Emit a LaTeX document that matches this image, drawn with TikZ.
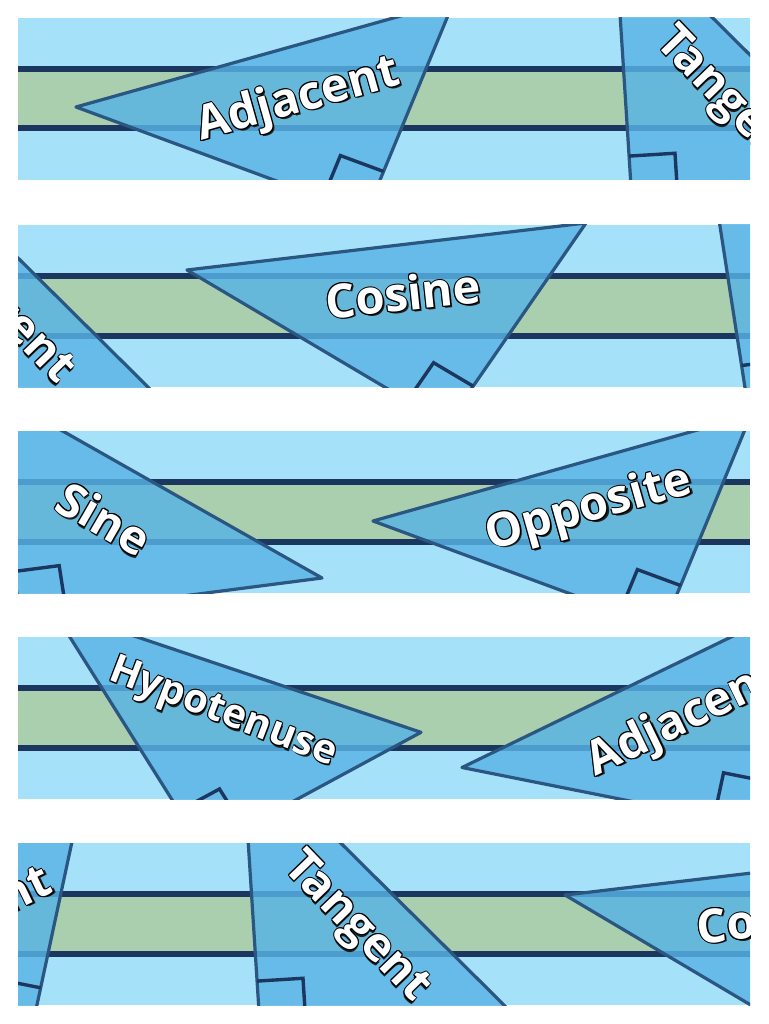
\documentclass[tikz,border=0pt]{standalone}
\usepackage{fontspec}
\setsansfont{Open Sans}
\usetikzlibrary{calc}

\definecolor{sky}{HTML}{A6E1FA}
\definecolor{meadow}{HTML}{AACFAE}
\definecolor{navy}{HTML}{1B3760}
\definecolor{trifill}{HTML}{58B3E6}
\definecolor{triedge}{HTML}{2A5681}
\definecolor{shade}{HTML}{1E1E1E}

% white word with a thin black rim and a small drop shadow
\newcommand{\glowtext}[1]{%
  \rlap{\kern1.9pt\raisebox{-1.9pt}{\textcolor{shade}{#1}}}%
  \rlap{\kern1pt\textcolor{black}{#1}}%
  \rlap{\kern-1pt\textcolor{black}{#1}}%
  \rlap{\raisebox{1pt}{\textcolor{black}{#1}}}%
  \rlap{\raisebox{-1pt}{\textcolor{black}{#1}}}%
  \rlap{\kern0.7pt\raisebox{0.7pt}{\textcolor{black}{#1}}}%
  \rlap{\kern-0.7pt\raisebox{0.7pt}{\textcolor{black}{#1}}}%
  \rlap{\kern0.7pt\raisebox{-0.7pt}{\textcolor{black}{#1}}}%
  \rlap{\kern-0.7pt\raisebox{-0.7pt}{\textcolor{black}{#1}}}%
  \textcolor{white}{#1}}

% triangle: two far corners, then the right-angle corner
\newcommand{\rtri}[3]{%
  \coordinate (ta) at (#1);
  \coordinate (tb) at (#2);
  \coordinate (tc) at (#3);
  \filldraw[tri] (ta) -- (tb) -- (tc) -- cycle;
  \coordinate (m1) at ($(tc)!46pt!(ta)$);
  \coordinate (m3) at ($(tc)!46pt!(tb)$);
  \draw[rmark] (m1) -- ($(m1)+(m3)-(tc)$) -- (m3);}

\newcommand{\ribbon}{%
  \rtri{58,89}{436,-17}{348,196}
  \rtri{596,-98}{864.5,168.5}{614,184}
  \rtri{897,45}{1296,-2}{1157,199}
  \rtri{1423,-44}{1760,147}{1458.6,186}
  \rtri{1811,90}{2189,-16}{2101,197}
  \rtri{2217.8,-28.7}{2587,95.3}{2369.5,212.8}
  \rtri{2628,130.5}{2973.7,-37.2}{2925,189.8}
  \rtri{3136,-98}{3404.5,168.5}{3154,184}
  \rtri{3459,52}{3858,5}{3719,206}
  \node[lbl, rotate=15.7] (adjacent-a) at (279,78) {\glowtext{Adjacent}};
  \node[lbl, rotate=-46] (tangent-a) at (714,81) {\glowtext{Tangent}};
  \node[lbl, rotate=6] (cosine-a) at (1113,69) {\glowtext{Cosine}};
  \node[lbl, rotate=-30] (sine) at (1542,88) {\glowtext{Sine}};
  \node[lbl, rotate=15.7] (opposite) at (2026,74) {\glowtext{Opposite}};
  \node[lbl, rotate=-21, font=\sffamily\bfseries\fontsize{40}{44}\selectfont,
        text height=29pt] (hypotenuse) at (2390.5,72) {\glowtext{Hypotenuse}};
  \node[lbl, rotate=25.9] (adjacent-b) at (2848,79) {\glowtext{Adjacent}};
  \node[lbl, rotate=-46] (tangent-b) at (3254,81) {\glowtext{Tangent}};
  \node[lbl, rotate=6] (cosine-b) at (3668,76) {\glowtext{Cosine}};}

\begin{document}
\begin{tikzpicture}[x=1pt, y=-1pt,
    tri/.style={fill=trifill, fill opacity=0.82, draw=triedge, draw opacity=1,
      line width=3.2pt, line join=round},
    rmark/.style={draw=navy, line width=3.4pt},
    bandline/.style={draw=navy, line width=6pt},
    lbl/.style={font=\sffamily\bfseries\fontsize{47}{50}\selectfont,
      inner sep=0pt, text height=34pt, text depth=0pt}]
  \useasboundingbox (0,0) rectangle (768,1024);
  \fill[white] (0,0) rectangle (768,1024);

  % five windows onto one long ribbon
  \foreach \k/\top in {0/18, 1/225, 2/431, 3/637, 4/843} {
    \begin{scope}[shift={({18-728*\k},\top)}]
      \clip ({728*\k},0) rectangle ++(732,162);
      \fill[sky] ({728*\k},0) rectangle ++(732,162);
      \fill[meadow] ({728*\k},51) rectangle ++(732,59.5);
      \draw[bandline] ({728*\k},51) -- ++(732,0);
      \draw[bandline] ({728*\k},110.5) -- ++(732,0);
      \ribbon
    \end{scope}
  }
\end{tikzpicture}
\end{document}
